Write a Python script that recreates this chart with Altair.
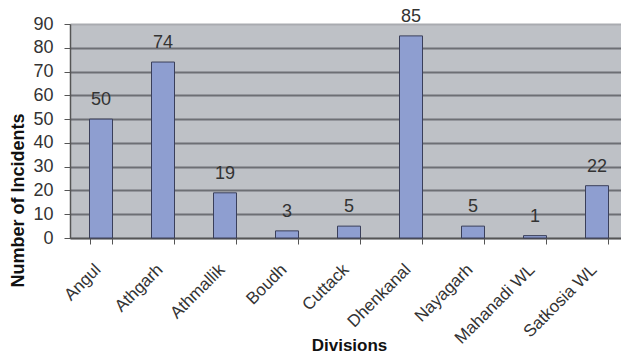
import altair as alt
import pandas as pd

divisions = ["Angul", "Athgarh", "Athmallik", "Boudh", "Cuttack", "Dhenkanal",
             "Nayagarh", "Mahanadi WL", "Satkosia WL"]
incidents = [50, 74, 19, 3, 5, 85, 5, 1, 22]
y_ticks = [0, 10, 20, 30, 40, 50, 60, 70, 80, 90]

df = pd.DataFrame({"Division": divisions, "Incidents": incidents})

FONT = "Liberation Sans"

x = alt.X("Division:N", sort=divisions, title="Divisions",
          scale=alt.Scale(range=[0, 558], paddingInner=0.63, paddingOuter=0.315),
          axis=alt.Axis(labelAngle=-45, labelAlign="right", labelBaseline="top",
                        labelFontSize=17, labelColor="#333333", labelFont=FONT,
                        labelPadding=17, labelOffset=-9, tickBand="extent", tickSize=6,
                        tickColor="#555555", domainColor="#555555", domainWidth=1.5,
                        labelOverlap=False,
                        titleFont=FONT, titleFontSize=17, titleFontWeight="bold",
                        titleColor="#111111", titleX=279, titleY=107,
                        titleBaseline="middle", grid=False))
y = alt.Y("Incidents:Q", title="Number of Incidents",
          scale=alt.Scale(domain=[0, 90], nice=False),
          axis=alt.Axis(values=y_ticks, tickCount=10, labelFontSize=18, labelColor="#333333",
                        labelFont=FONT, tickSize=6, tickColor="#555555",
                        labelOverlap=False,
                        domainColor="#555555", domainWidth=1.5, labelPadding=11,
                        titleFont=FONT, titleFontSize=18, titleFontWeight="bold",
                        titleColor="#111111", titleX=-52, titleY=176,
                        titleBaseline="middle",
                        gridColor={"condition": {"test": "datum.value === 90", "value": "#a9abb0"},
                                   "value": "#6d6f74"},
                        gridWidth=2))

base = alt.Chart(df).encode(x=x, y=y)
bars = base.mark_bar(color="#8e9ed0", stroke="#3a3f5a", strokeWidth=1, size=23)
labels = base.mark_text(baseline="bottom", dy=-10, fontSize=18, font=FONT,
                        color="#333333").encode(text="Incidents:Q")

chart = (bars + labels).properties(
    width=551, height=214,
    autosize=alt.AutoSizeParams(type="none"),
    padding={"left": 70, "top": 24, "right": 0, "bottom": 116},
    background="white",
).configure_view(fill="#bec1c6", stroke="#a9abb0", strokeWidth=1)

chart.save("out.html", embed_options={"renderer": "svg", "actions": False})
